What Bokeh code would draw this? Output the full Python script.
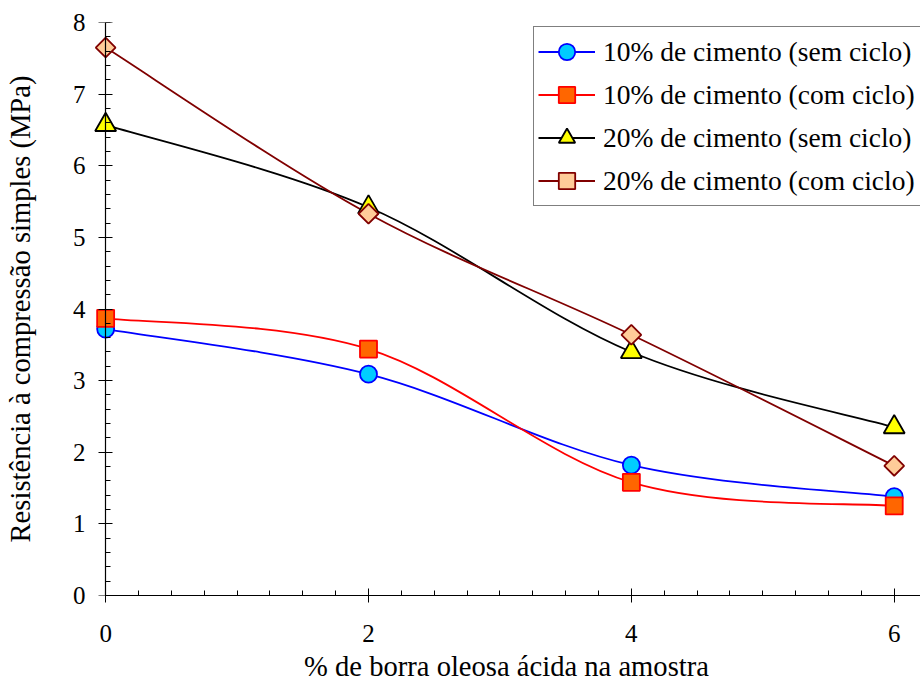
import numpy as np
from bokeh.plotting import figure
from bokeh.models import Range1d, SingleIntervalTicker, Legend, LegendItem, LinearAxis
from bokeh.embed import file_html
from bokeh.resources import INLINE

# ---- data ----
borra = [0, 2, 4, 6]                       # % de borra oleosa ácida
c10_sem = [3.72, 3.09, 1.82, 1.38]         # 10% de cimento (sem ciclo)
c10_com = [3.87, 3.44, 1.58, 1.25]         # 10% de cimento (com ciclo)
c20_sem = [6.57, 5.42, 3.40, 2.35]         # 20% de cimento (sem ciclo)
c20_com = [7.65, 5.33, 3.64, 1.81]         # 20% de cimento (com ciclo)

labels = ["10% de cimento (sem ciclo)", "10% de cimento (com ciclo)",
          "20% de cimento (sem ciclo)", "20% de cimento (com ciclo)"]
x_title = "% de borra oleosa ácida na amostra"
y_title = "Resistência à compressão simples (MPa)"

FONT = "'Liberation Serif', 'Times New Roman', serif"

p = figure(width=920, height=684, x_range=Range1d(-0.1, 6.2), y_range=Range1d(0, 8),
           output_backend="svg", toolbar_location=None,
           min_border_left=92, min_border_right=0, min_border_top=22, min_border_bottom=89)
p.outline_line_color = None
p.xgrid.visible = False
p.ygrid.visible = False
p.background_fill_color = "white"
p.border_fill_color = "white"


def smooth_segments(xs, ys):
    """Bezier control points (Catmull-Rom style, like a smoothed spreadsheet line)."""
    xs = np.asarray(xs, float)
    ys = np.asarray(ys, float)
    n = len(xs)
    d = dict(x0=[], y0=[], x1=[], y1=[], cx0=[], cy0=[], cx1=[], cy1=[])
    for i in range(n - 1):
        a, b, c, e = max(i - 1, 0), i, i + 1, min(i + 2, n - 1)
        d["x0"].append(xs[b]); d["y0"].append(ys[b])
        d["x1"].append(xs[c]); d["y1"].append(ys[c])
        d["cx0"].append(xs[b] + (xs[c] - xs[a]) / 6.0)
        d["cy0"].append(ys[b] + (ys[c] - ys[a]) / 6.0)
        d["cx1"].append(xs[c] - (xs[e] - xs[b]) / 6.0)
        d["cy1"].append(ys[c] - (ys[e] - ys[b]) / 6.0)
    return d


series = [
    (c10_sem, "#0000FF", "circle", 17, "#00CCFF", "#0000FF", 0.0),
    (c10_com, "#FF0000", "square", 17, "#FF6600", "#FF0000", 0.0),
    (c20_sem, "#000000", "triangle", 21, "#FFFF00", "#000000", 0.0),
    (c20_com, "#800000", "square", 14, "#FFCC99", "#800000", np.pi / 4),
]

line_rs = []
for ys, lc, *_ in series:
    seg = smooth_segments(borra, ys)
    r = p.bezier(x0="x0", y0="y0", x1="x1", y1="y1", cx0="cx0", cy0="cy0",
                 cx1="cx1", cy1="cy1", source=seg, line_color=lc, line_width=1.8)
    line_rs.append(r)

mark_rs = []
for ys, lc, mk, sz, fc, oc, ang in series:
    r = p.scatter(borra, ys, marker=mk, size=sz, fill_color=fc, line_color=oc,
                  line_width=1.8, angle=ang)
    mark_rs.append(r)

items = [LegendItem(label=lab, renderers=[lr, mr])
         for lab, lr, mr in zip(labels, line_rs, mark_rs)]
legend = Legend(items=items, location=(441, 389), margin=0, padding=4,
                spacing=2, glyph_width=57, glyph_height=41, label_height=41,
                label_width=380,
                label_standoff=8, label_text_font=FONT, label_text_font_size="27.5px",
                label_text_color="black", border_line_color="black", border_line_width=1,
                background_fill_color="white", background_fill_alpha=1.0)
p.add_layout(legend, "center")

# x axis
xa = p.xaxis[0]
xa.ticker = SingleIntervalTicker(interval=2, num_minor_ticks=8)
xa.bounds = (0, 6.2)
xa.axis_label = x_title

# y axis: labels/title from the regular left axis, line and ticks at x = 0
ya = p.yaxis[0]
ya.ticker = SingleIntervalTicker(interval=1, num_minor_ticks=5)
ya.axis_label = y_title
ya.axis_line_color = None
ya.major_tick_line_color = None
ya.minor_tick_line_color = None
ya.major_tick_in = 0
ya.major_tick_out = 0
ya.minor_tick_in = 0
ya.minor_tick_out = 0

ya2 = LinearAxis(ticker=SingleIntervalTicker(interval=1, num_minor_ticks=5),
                 fixed_location=0, bounds=(0, 8), major_label_text_alpha=0,
                 major_label_text_font_size="1px")
p.add_layout(ya2, "left")

for ax in (xa, ya2):
    ax.axis_line_color = "black"
    ax.axis_line_width = 1.2
    ax.major_tick_line_color = "black"
    ax.minor_tick_line_color = "black"
    ax.major_tick_in = 7
    ax.major_tick_out = 7
    ax.minor_tick_in = 5
    ax.minor_tick_out = 0

for ax in (xa, ya):
    ax.major_label_text_font = FONT
    ax.major_label_text_font_size = "25px"
    ax.major_label_text_color = "black"
    ax.axis_label_text_font = FONT
    ax.axis_label_text_font_size = "28.6px"
    ax.axis_label_text_font_style = "normal"
    ax.axis_label_text_color = "black"

xa.major_label_standoff = 22
xa.axis_label_standoff = 6
ya.major_label_standoff = 7
ya.axis_label_standoff = 34

open("out.html", "w").write(file_html(p, INLINE))
